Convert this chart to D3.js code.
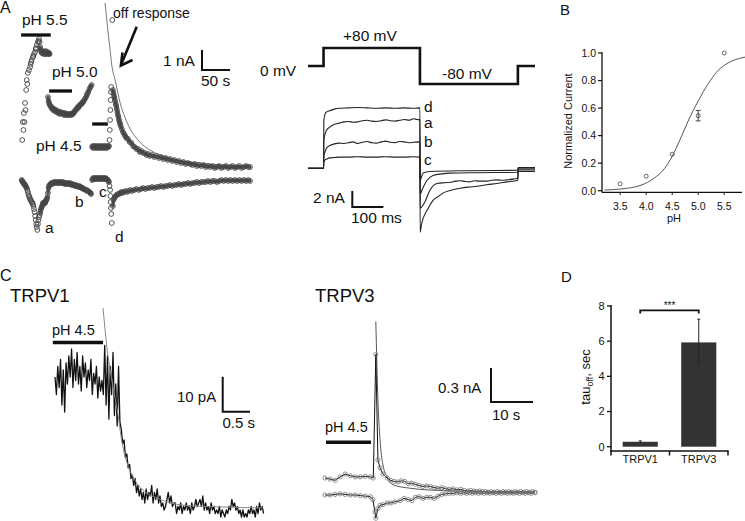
<!DOCTYPE html>
<html><head><meta charset="utf-8">
<script src="https://cdn.jsdelivr.net/npm/d3@7"></script>
<style>body{margin:0;background:#fff}svg{display:block;font-family:"Liberation Sans",Arial,Helvetica,sans-serif}</style>
</head><body><svg id="c" width="745" height="521"></svg>
<script>
// ================= DATA =================
// Panel A (left): current (nA) vs time (s), upper row (+80 mV) and lower row (-80 mV)
const aUp55 = [[4,1.4],[5,2.3],[6,1.9],[7,2.75],[8,2.3],[9,3.25],[10,2.9],[11,3.9],[12,4.4],[13,4.2],[14,4.75],[16,4.9],[18,5.05],[19,5.2],[20,5.3],[21,5.4],[23,5.55],[24,5.6],[25,5.7],[27,5.8],[28,5.95],[29,6.0],[30,6.15],[32,6.3],[33,6.35],[34,6.45],[35,6.3],[36,6.05],[37,5.9],[38,5.8],[39,5.75],[40,5.85],[41,5.8],[42,5.7],[43,5.75],[44,5.8],[45,5.7],[46,5.85],[47,5.75],[48,5.7],[49,5.8],[50,5.75],[51,5.7],[52,5.75],[53,5.7]];
const aUp50 = [[50,3.55],[51,3.35],[52,3.25],[53,3.15],[55,3.1],[56,3.0],[58,3.0],[59,2.9],[61,2.95],[62,2.85],[64,2.9],[65,2.8],[67,2.85],[68,2.75],[70,2.8],[71,2.7],[73,2.8],[74,2.75],[76,2.7],[77,2.75],[79,2.65],[80,2.75],[82,2.7],[83,2.65],[85,2.7],[86,2.65],[88,2.7],[89,2.65],[91,2.7],[92,2.65],[94,2.75],[95,2.7],[97,2.8],[98,2.85],[100,2.9],[101,2.95],[103,3.05],[104,3.0],[106,3.1],[107,3.15],[109,3.2],[110,3.2],[112,3.3],[113,3.3],[115,3.4],[117,3.5],[119,3.6],[120,3.7],[122,3.8],[124,3.95],[126,4.05],[128,4.15]];
const aUp45 = [[129,1.05],[130,1.1],[131,1.0],[133,1.1],[134,1.05],[135,1.0],[137,1.1],[138,1.05],[139,1.0],[141,1.1],[142,1.05],[143,1.0],[145,1.1],[146,1.05],[147,1.0],[149,1.1],[150,1.05],[151,1.0],[153,1.1],[154,1.05],[155,1.0],[157,1.1],[158,1.05],[159,1.1],[160,1.4],[160.5,1.9],[161,2.4],[161.5,2.9],[162,3.4],[162.5,3.8],[163,4.05],[165,7.4],
 [166,3.9],[167,3.75],[168,3.6],[169,3.5],[170,3.35],[171,3.2],[172,3.1],[173,2.95],[174,2.8],[175,2.65],[176,2.55],[177,2.4],[178,2.3],[179,2.2],[180,2.1],[182,1.95],[184,1.8],[186,1.7],[188,1.6],[190,1.5],[193,1.45],[196,1.3],[199,1.25],[202,1.1],[205,1.05],[208,0.95],[211,0.95],[214,0.8],[217,0.85],[220,0.75],[223,0.75],[226,0.65],[229,0.7],[232,0.6],[236,0.65],[240,0.55],[244,0.6],[248,0.5],[252,0.55],[256,0.45],[260,0.5],[264,0.4],[268,0.45],[272,0.35],[276,0.4],[280,0.3],[284,0.35],[288,0.25],[292,0.3],[296,0.2],[300,0.25],[304,0.2],[308,0.15],[312,0.2],[316,0.1],[320,0.15],[324,0.1],[328,0.15],[332,0.05],[336,0.1],[340,0.05],[344,0.1],[348,0.0],[352,0.05],[356,0.1],[360,0.0],[364,0.05],[368,0.1],[372,0.0],[376,0.05],[380,0.1],[384,0.0],[388,0.05],[392,0.1],[396,0.0],[400,0.05],[404,0.1],[408,0.05],[411,0.05]];
const aLoA = [[3,-0.6],[4,-0.65],[5,-0.7],[6,-0.75],[7,-0.8],[8,-0.8],[9,-0.85],[10,-0.9],[11,-0.95],[12,-1.0],[13,-1.1],[14,-1.2],[15,-1.3],[16,-1.4],[17,-1.45],[18,-1.55],[19,-1.6],[20,-1.65],[21,-1.7],[22,-1.75],[23,-1.8],[24,-1.9],[25,-2.05],[26,-2.2],[27,-2.4],[28,-2.6],[29,-2.8],[30,-2.95],[31,-3.1],[32,-2.8],[33,-2.6],[34,-2.45],[35,-2.35],[36,-2.25],[37,-2.1],[38,-2.0],[39,-1.95],[40,-1.85],[41,-1.75],[42,-1.8],[43,-1.75],[44,-1.7],[45,-1.75],[46,-1.65],[47,-1.6],[48,-1.55],[49,-1.45]];
const aLoB = [[50,-1.25],[51,-1.0],[52,-0.9],[53,-0.85],[55,-0.8],[56,-0.75],[58,-0.8],[59,-0.75],[61,-0.7],[62,-0.75],[64,-0.7],[65,-0.75],[67,-0.7],[68,-0.75],[70,-0.7],[71,-0.75],[73,-0.7],[74,-0.75],[76,-0.75],[77,-0.7],[79,-0.75],[80,-0.8],[82,-0.75],[83,-0.8],[85,-0.75],[86,-0.8],[88,-0.8],[89,-0.75],[91,-0.8],[92,-0.85],[94,-0.8],[95,-0.85],[97,-0.85],[98,-0.9],[100,-0.85],[101,-0.9],[103,-0.9],[104,-0.95],[106,-0.9],[107,-0.95],[109,-0.95],[110,-1.0],[112,-1.0],[113,-1.05],[115,-1.05],[117,-1.1],[119,-1.1],[120,-1.15],[122,-1.15],[124,-1.2],[126,-1.25],[127,-1.3]];
const aLoC = [[129,-0.6],[130,-0.55],[131,-0.5],[133,-0.55],[134,-0.5],[135,-0.55],[137,-0.5],[138,-0.55],[139,-0.5],[141,-0.55],[142,-0.5],[143,-0.55],[145,-0.5],[146,-0.55],[147,-0.5],[149,-0.55],[150,-0.5],[151,-0.55],[153,-0.5],[154,-0.55],[155,-0.55],[157,-0.6],[158,-0.65],[159,-0.7],[160,-0.9],[161,-1.1],[161.5,-1.4],[162,-1.7],[162.5,-2.0],[163,-2.3],[164,-2.75]];
const aLoRec = [[166,-1.9],[167,-1.6],[169,-1.5],[171,-1.4],[173,-1.35],[175,-1.3],[177,-1.3],[179,-1.25],[181,-1.2],[183,-1.25],[185,-1.2],[188,-1.15],[191,-1.2],[194,-1.15],[197,-1.1],[200,-1.15],[204,-1.1],[208,-1.05],[212,-1.1],[216,-1.05],[220,-1.0],[224,-1.05],[228,-1.0],[232,-1.0],[236,-0.95],[240,-1.0],[244,-0.95],[248,-0.95],[252,-0.9],[256,-0.95],[260,-0.9],[264,-0.9],[268,-0.85],[272,-0.9],[276,-0.85],[280,-0.85],[284,-0.8],[288,-0.85],[292,-0.8],[296,-0.8],[300,-0.75],[304,-0.8],[308,-0.75],[312,-0.75],[316,-0.7],[320,-0.75],[324,-0.7],[328,-0.7],[332,-0.7],[336,-0.65],[340,-0.7],[344,-0.65],[348,-0.65],[352,-0.7],[356,-0.65],[360,-0.6],[364,-0.65],[368,-0.6],[372,-0.65],[376,-0.6],[380,-0.65],[384,-0.6],[388,-0.65],[392,-0.6],[396,-0.65],[400,-0.6],[404,-0.65],[408,-0.6],[411,-0.65]];
const aFit = [[152,8.25],[157,6.9],[161,5.9],[164,5.15],[170,4.4],[179,3.25],[188,2.5],[196,2.0],[214,1.3],[232,0.9],[268,0.5],[321,0.25],[411,0.1]];
const aBars = [[2,55],[52,93],[129,157]];           // pH application (s)
const aBarLabels = ["pH 5.5","pH 5.0","pH 4.5"];
const aPointLabels = ["a","b","c","d"];

// Panel A (right): voltage protocol (ms, mV) and current traces (ms, nA)
const protoT = [0,50,360,675,730];
const protoV = [0,80,-80,0,0];
const curD = [[0,0],[50,0],[51,6.0],[55,6.8],[60,7.05],[70,7.2],[85,7.4],[100,7.5],[130,7.55],[160,7.6],[190,7.55],[220,7.5],[250,7.55],[280,7.5],[310,7.55],[340,7.5],[360,7.55],
  [360.5,-8.0],[365,-7.0],[370,-6.3],[383,-5.25],[402,-4.0],[420,-3.5],[434,-3.1],[460,-2.75],[489,-2.5],[515,-2.35],[543,-2.25],[575,-2.05],[608,-1.9],[640,-1.7],[675,-1.5],[675.5,-0.4],[730,-0.4]];
const curA = [[0,0],[50,0],[51,3.55],[55,4.3],[60,4.8],[70,5.15],[85,5.5],[100,5.65],[115,5.8],[130,5.85],[145,5.75],[160,5.8],[175,5.95],[190,6.0],[205,5.9],[220,5.85],[235,5.95],[250,6.05],[265,5.95],[280,5.9],[295,6.0],[310,6.1],[325,6.0],[340,6.2],[350,6.1],[360,6.05],
  [360.5,-5.0],[370,-4.6],[376,-4.2],[392,-2.75],[415,-1.9],[440,-1.8],[457,-1.75],[475,-1.6],[490,-1.55],[505,-1.65],[520,-1.7],[535,-1.55],[550,-1.6],[575,-1.6],[590,-1.5],[608,-1.45],[625,-1.5],[640,-1.45],[660,-1.35],[675,-1.25],[675.5,-0.2],[730,-0.2]];
const curB = [[0,0],[50,0],[51,1.55],[55,2.05],[60,2.55],[70,2.85],[85,3.05],[100,3.15],[115,3.1],[130,3.2],[145,3.3],[160,3.1],[175,3.25],[190,3.35],[205,3.2],[220,3.15],[235,3.3],[250,3.4],[265,3.25],[280,3.2],[295,3.35],[310,3.3],[325,3.2],[340,3.25],[360,3.3],
  [360.5,-3.2],[370,-2.4],[383,-1.5],[402,-0.9],[430,-0.7],[457,-0.6],[550,-0.55],[675,-0.5],[675.5,0],[730,0]];
const curC = [[0,0],[50,0],[51,0.8],[55,1.05],[60,1.15],[70,1.3],[85,1.35],[100,1.4],[130,1.4],[160,1.45],[190,1.4],[220,1.4],[250,1.45],[280,1.4],[310,1.4],[340,1.45],[360,1.4],
  [360.5,-1.5],[370,-0.6],[392,-0.4],[500,-0.3],[675,-0.25],[675.5,0.1],[730,0.1]];
const curLabels = ["d","a","b","c"];

// Panel B: normalized current vs pH
const phLevels = [3.5,4.0,4.5,5.0,5.5];
const normCurrent = [0.05,0.105,0.265,0.545,1.0];
const normErr = [0,0,0,0.038,0];
const fitPH = [3.2,3.5,3.9,4.15,4.35,4.5,4.65,4.8,4.9,5.0,5.1,5.2,5.35,5.5,5.7,5.9];
const fitNorm = [0.005,0.012,0.04,0.09,0.16,0.25,0.37,0.5,0.58,0.65,0.72,0.78,0.86,0.91,0.95,0.97];
const bTicksY = [0,0.2,0.4,0.6,0.8,1.0];
const bTicksX = [3.5,4.0,4.5,5.0,5.5];

// Panel C (left): TRPV1 current (pA), sampled every v1Dt s
const v1Dt = 0.0253;
const v1Current = [38,33,41,35,43,30,40,28,42,36,44,38,46,35,43,37,45,36,41,34,44,38,42,35,40,37,43,33,39,36,41,32,38,34,37,33,
  47,30,44,26,41,33,45,27,36,24,41,25,
  23,19,20,15,16,12,13,9,10,7,9,5,7,4,
  6,3,5,2,6,3,5,4,7,2,5,3,6,2,4,1,2,0,
  1,3,5,2,4,1,2,
  2,-1,1,0,2,-1,1,0,2,0,1,-1,2,0,1,3,1,2,
  3,1,4,0,2,0,1,-1,2,0,1,-1,0,-1,1,-2,0,-1,
  -2,0,-1,1,0,3,1,2,0,1,-1,0,-2,0,-2,-1,-2,0,-1,1,-1,0,-2,1,-1,2,0,1,-1];
const v1Fit = [[0.88,57.7],[0.95,46.6],[1.04,37.1],[1.14,28.6],[1.23,19.1],[1.32,13.4],[1.43,9.4],[1.61,5.7],[1.87,3.4],[2.34,1.4],[2.97,0.9],[3.81,0.6]];
const v1Bar = [-0.04,0.88];

// Panel C (right): TRPV3 current (nA) vs time (s)
const v3Upper = [[0,0],[1.2,-0.01],[2.4,-0.02],[3.6,0.01],[4.8,0.035],[6.0,0.02],[7.2,0.01],[8.4,0.01],[9.6,0.015],[10.8,0.01],[11.5,0.0],[12.1,1.09],[12.6,0.16],[13.1,0.09],[13.8,0.035],[14.8,0.0],[15.6,-0.02],[16.5,-0.03],[17.4,-0.035],[18.2,-0.025],[19.0,-0.03],[19.8,-0.05],[20.6,-0.045],[21.5,-0.055],[22.4,-0.065],[23.3,-0.075],[24.2,-0.07],[25.1,-0.075],[26.0,-0.085],[26.9,-0.09],[27.8,-0.085],[28.7,-0.095],[29.6,-0.1],[30.5,-0.095],[31.4,-0.105],[32.3,-0.1],[33.2,-0.11],[34.0,-0.115],[34.7,-0.11],[35.4,-0.115],[36.1,-0.12],[36.8,-0.115],[37.5,-0.12],[38.2,-0.12],[38.9,-0.125],[39.6,-0.12],[40.3,-0.125],[41.0,-0.12],[41.7,-0.125],[42.4,-0.12],[43.1,-0.125],[43.8,-0.12],[44.5,-0.125],[45.2,-0.12],[45.9,-0.125],[46.6,-0.12],[47.3,-0.125],[48.0,-0.12],[48.7,-0.125],[49.4,-0.12],[50,-0.125]];
const v3Lower = [[0,-0.15],[1.2,-0.15],[2.4,-0.145],[3.6,-0.14],[4.8,-0.145],[6.0,-0.15],[7.2,-0.15],[8.4,-0.155],[9.6,-0.16],[10.8,-0.165],[11.4,-0.19],[11.9,-0.3],[12.1,-0.355],[12.6,-0.27],[13.1,-0.24],[13.8,-0.235],[14.8,-0.22],[15.7,-0.22],[16.7,-0.21],[17.9,-0.2],[18.8,-0.18],[19.8,-0.19],[20.7,-0.2],[21.5,-0.17],[22.4,-0.165],[23.3,-0.18],[24.2,-0.17],[25.1,-0.17],[26.0,-0.18],[26.9,-0.16],[27.8,-0.145],[28.7,-0.14],[29.6,-0.135],[30.5,-0.135],[31.4,-0.13],[32.3,-0.135],[33.0,-0.13],[33.7,-0.135],[34.4,-0.13],[35.1,-0.135],[35.8,-0.13],[36.5,-0.135],[37.2,-0.13],[37.9,-0.135],[38.6,-0.13],[39.3,-0.135],[40.0,-0.13],[40.7,-0.135],[41.4,-0.13],[42.1,-0.135],[42.8,-0.13],[43.5,-0.135],[44.2,-0.13],[44.9,-0.135],[45.6,-0.13],[46.3,-0.135],[47.0,-0.13],[47.7,-0.135],[48.4,-0.13],[49.1,-0.135],[50,-0.13]];
const v3Fit = [[12.1,1.38],[12.6,0.69],[13.1,0.34],[13.8,0.115],[14.8,0.01],[16.2,-0.06],[20.2,-0.09],[24.3,-0.105],[32,-0.115],[50,-0.124]];
const v3Bar = [0.24,10.95];

// Panel D: tau_off (s)
const dGroups = ["TRPV1","TRPV3"];
const dTau = [0.28,5.93];
const dErr = [0.05,1.32];
const dTicks = [0,2,4,6,8];

// ================= DRAW =================
const svg = d3.select("#c");
const INK = "#111";
function txt(g,x,y,s,size,anchor){return g.append("text").attr("x",x).attr("y",y).attr("font-size",size).attr("text-anchor",anchor||"start").attr("fill",INK).text(s);}
function seg(g,x1,y1,x2,y2,w,c){return g.append("line").attr("x1",x1).attr("y1",y1).attr("x2",x2).attr("y2",y2).attr("stroke",c||INK).attr("stroke-width",w||1);}
function scaleBar(g,x0,y0,h,w,sw){g.append("path").attr("d",`M${x0},${y0-h}V${y0}H${x0+w}`).attr("fill","none").attr("stroke",INK).attr("stroke-width",sw||2);}
function dots(g,data,xs,ys,r,col,sw){g.append("g").selectAll("circle").data(data).join("circle").attr("cx",d=>xs(d[0])).attr("cy",d=>ys(d[1])).attr("r",r).attr("fill","none").attr("stroke",col||"#555").attr("stroke-width",sw||0.8);}

// panel letters
txt(svg,0,13,"A",16); txt(svg,560,15,"B",15); txt(svg,0,281,"C",16); txt(svg,561,282,"D",15);

// ---- Panel A left ----
{
  const g = svg.append("g");
  const xA = d3.scaleLinear().domain([0,411]).range([20,250]);
  const yA = d3.scaleLinear().domain([0,1]).range([168,148]);
  g.append("path").datum(aFit).attr("d",d3.line().x(d=>xA(d[0])).y(d=>yA(d[1])).curve(d3.curveMonotoneX))
    .attr("fill","none").attr("stroke","#777").attr("stroke-width",1);
  // dense runs of overlapping samples appear as a dark band
  const band = d3.line().x(d=>xA(d[0])).y(d=>yA(d[1]));
  const runs = [aUp55.filter(d=>d[0]>=36), aUp50, aUp45.filter(d=>d[0]<=159), aUp45.filter(d=>d[0]>=166),
    aLoA.filter(d=>d[0]<=12), aLoA.filter(d=>d[0]>=36), aLoB, aLoC.filter(d=>d[0]<=159), aLoRec];
  runs.forEach(r=>g.append("path").datum(r).attr("d",band).attr("fill","none").attr("stroke","#505050")
    .attr("stroke-width",3.2).attr("stroke-linecap","round").attr("stroke-linejoin","round"));
  [aUp55,aUp50,aUp45,aLoA,aLoB,aLoC,aLoRec].forEach(a=>dots(g,a,xA,yA,2.4,"#444",0.9));
  const barY=[35,91,124], labXY=[[22,25],[52,77],[36,151]];
  aBars.forEach((b,i)=>{seg(g,xA(b[0]),barY[i],xA(b[1]),barY[i],3.3); txt(g,labXY[i][0],labXY[i][1],aBarLabels[i],15.5);});
  const plXY=[[45,233],[75,207],[99,197],[115,242]];
  aPointLabels.forEach((s,i)=>txt(g,plXY[i][0],plXY[i][1],s,15.5));
  txt(g,113,18,"off response",14);
  // arrow
  seg(g,136.7,26.7,121.6,63.5,2.6);
  g.append("path").attr("d","M122.5,52.5L120.9,65.5L132.5,60").attr("fill","none").attr("stroke",INK).attr("stroke-width",2.6).attr("stroke-linejoin","miter");
  scaleBar(g,202,70,yA(0)-yA(1),xA(50)-xA(0),2);
  txt(g,163,66,"1 nA",15.5); txt(g,201,86,"50 s",15.5);
}

// ---- Panel A right ----
{
  const g = svg.append("g");
  const xV = d3.scaleLinear().domain([0,730]).range([308,535]);
  const yV = d3.scaleLinear().domain([-80,80]).range([84,48]);
  const yI = d3.scaleLinear().domain([0,1]).range([168.3,160.3]);
  const proto = protoT.map((t,i)=>[t,protoV[i]]);
  g.append("path").datum(proto).attr("d",d3.line().x(d=>xV(d[0])).y(d=>yV(d[1])).curve(d3.curveStepAfter))
    .attr("fill","none").attr("stroke",INK).attr("stroke-width",2.6);
  txt(g,260,76,"0 mV",15.5); txt(g,343,41,"+80 mV",15.5); txt(g,442,79,"-80 mV",15.5);
  const ln = d3.line().x(d=>xV(d[0])).y(d=>yI(d[1])).curve(d3.curveMonotoneX);
  [curD,curA,curB,curC].forEach(c=>g.append("path").datum(c).attr("d",ln).attr("fill","none").attr("stroke","#222").attr("stroke-width",1.1));
  const labY=[111.5,128,146.5,165];
  curLabels.forEach((s,i)=>txt(g,424,labY[i],s,15.5));
  scaleBar(g,352.3,207,yI(0)-yI(2),xV(100)-xV(0),2);
  txt(g,313,203,"2 nA",15.5); txt(g,351,222.5,"100 ms",15.5);
}

// ---- Panel B ----
{
  const g = svg.append("g");
  const xB = d3.scaleLinear().domain([3.15,5.9]).range([602,745]);
  const yB = d3.scaleLinear().domain([0,1]).range([190.7,53]);
  seg(g,602,52,602,192.5,1.3); seg(g,602,192.3,742,192.3,1.3);
  bTicksY.forEach(v=>{seg(g,598,yB(v),602,yB(v),1.2); txt(g,596,yB(v)+3.8,d3.format(".1f")(v),10.5,"end");});
  bTicksX.forEach(v=>{seg(g,xB(v),192.3,xB(v),195,1); txt(g,xB(v),210,d3.format(".1f")(v),10.5,"middle");});
  txt(g,674,222,"pH",11,"middle");
  g.append("text").attr("transform","translate(571.5,121) rotate(-90)").attr("text-anchor","middle").attr("font-size",11).attr("fill",INK).text("Normalized Current");
  g.append("path").datum(fitPH.map((p,i)=>[p,fitNorm[i]])).attr("d",d3.line().x(d=>xB(d[0])).y(d=>yB(d[1])).curve(d3.curveMonotoneX))
    .attr("fill","none").attr("stroke","#555").attr("stroke-width",1);
  phLevels.forEach((p,i)=>{ if(normErr[i]>0){const x=xB(p),y1=yB(normCurrent[i]-normErr[i]),y2=yB(normCurrent[i]+normErr[i]);
    seg(g,x,y1,x,y2,0.9,"#333");seg(g,x-2.5,y1,x+2.5,y1,0.9,"#333");seg(g,x-2.5,y2,x+2.5,y2,0.9,"#333");}});
  dots(g,phLevels.map((p,i)=>[p,normCurrent[i]]),xB,yB,2,"#444");
}

// ---- Panel C left (TRPV1) ----
{
  const g = svg.append("g");
  const xC = d3.scaleLinear().domain([0,3.85]).range([55,265.2]);
  const yC = d3.scaleLinear().domain([0,10]).range([510,475]);
  txt(g,10,301.5,"TRPV1",18.5);
  seg(g,xC(v1Bar[0]),342.5,xC(v1Bar[1]),342.5,3.5);
  txt(g,52,335,"pH 4.5",14.5);
  g.append("path").datum(v1Current.map((v,i)=>[i*v1Dt,v])).attr("d",d3.line().x(d=>xC(d[0])).y(d=>yC(d[1])))
    .attr("fill","none").attr("stroke","#111").attr("stroke-width",1.3).attr("stroke-linejoin","round");
  g.append("path").datum(v1Fit).attr("d",d3.line().x(d=>xC(d[0])).y(d=>yC(d[1])).curve(d3.curveMonotoneX))
    .attr("fill","none").attr("stroke","#888").attr("stroke-width",1);
  scaleBar(g,222.7,411.7,yC(0)-yC(10),xC(0.5)-xC(0),2);
  txt(g,177,401.5,"10 pA",15); txt(g,222.5,428,"0.5 s",15);
}

// ---- Panel C right (TRPV3) ----
{
  const g = svg.append("g");
  const xC = d3.scaleLinear().domain([0,50]).range([325,535]);
  const yC = d3.scaleLinear().domain([0,0.3]).range([478,444]);
  txt(g,315,302,"TRPV3",18.5);
  seg(g,xC(v3Bar[0]),442.3,xC(v3Bar[1]),442.3,3.5);
  txt(g,325,431.5,"pH 4.5",14.5);
  const ln = d3.line().x(d=>xC(d[0])).y(d=>yC(d[1]));
  g.append("path").datum(v3Fit).attr("d",d3.line().x(d=>xC(d[0])).y(d=>yC(d[1])).curve(d3.curveMonotoneX))
    .attr("fill","none").attr("stroke","#555").attr("stroke-width",1);
  [v3Upper,v3Lower].forEach(a=>g.append("path").datum(a).attr("d",ln).attr("fill","none").attr("stroke","#111").attr("stroke-width",1));
  dots(g,v3Upper,xC,yC,2.1,"#777"); dots(g,v3Lower,xC,yC,2.1,"#777");
  scaleBar(g,491,402,yC(0)-yC(0.3),xC(10)-xC(0),2);
  txt(g,438,393,"0.3 nA",15); txt(g,492,420,"10 s",15);
}

// ---- Panel D ----
{
  const g = svg.append("g");
  const yD = d3.scaleLinear().domain([0,8]).range([446.7,306]);
  const xD = d3.scaleBand().domain(dGroups).range([611,728]).paddingInner(0.4).paddingOuter(0.2);
  seg(g,611,305,611,451.5,1.5); seg(g,610.3,451,728.7,451,1.5);
  [611,669.5,728].forEach(x=>seg(g,x,451,x,455.5,1.5));
  dTicks.forEach(v=>{seg(g,607,yD(v),611,yD(v),1.3); txt(g,604.5,yD(v)+3.8,v,11,"end");});
  g.selectAll("rect.bar").data(dGroups).join("rect").attr("class","bar")
    .attr("x",d=>xD(d)).attr("width",xD.bandwidth()).attr("y",(d,i)=>yD(dTau[i])).attr("height",(d,i)=>yD(0)-yD(dTau[i]))
    .attr("fill","#333");
  dGroups.forEach((d,i)=>{const x=xD(d)+xD.bandwidth()/2, y1=yD(dTau[i]-dErr[i]), y2=yD(dTau[i]+dErr[i]);
    seg(g,x,y1,x,y2,1,"#222"); seg(g,x-1.5,y2,x+1.5,y2,1,"#222");
    txt(g,x,463,d,11,"middle");});
  const bx1=xD("TRPV1")+xD.bandwidth()/2, bx2=xD("TRPV3")+xD.bandwidth()/2, by=yD(7.75);
  g.append("path").attr("d",`M${bx1},${by+3}V${by}H${bx2}V${by+3}`).attr("fill","none").attr("stroke",INK).attr("stroke-width",1.8);
  txt(g,(bx1+bx2)/2,309,"***",10,"middle");
  const yl = g.append("text").attr("transform","translate(590,377) rotate(-90)").attr("text-anchor","middle").attr("font-size",13).attr("fill",INK);
  yl.append("tspan").text("tau");
  yl.append("tspan").attr("font-size",9).attr("dy",3).text("off");
  yl.append("tspan").attr("dy",-3).text(", sec");
}
</script></body></html>
